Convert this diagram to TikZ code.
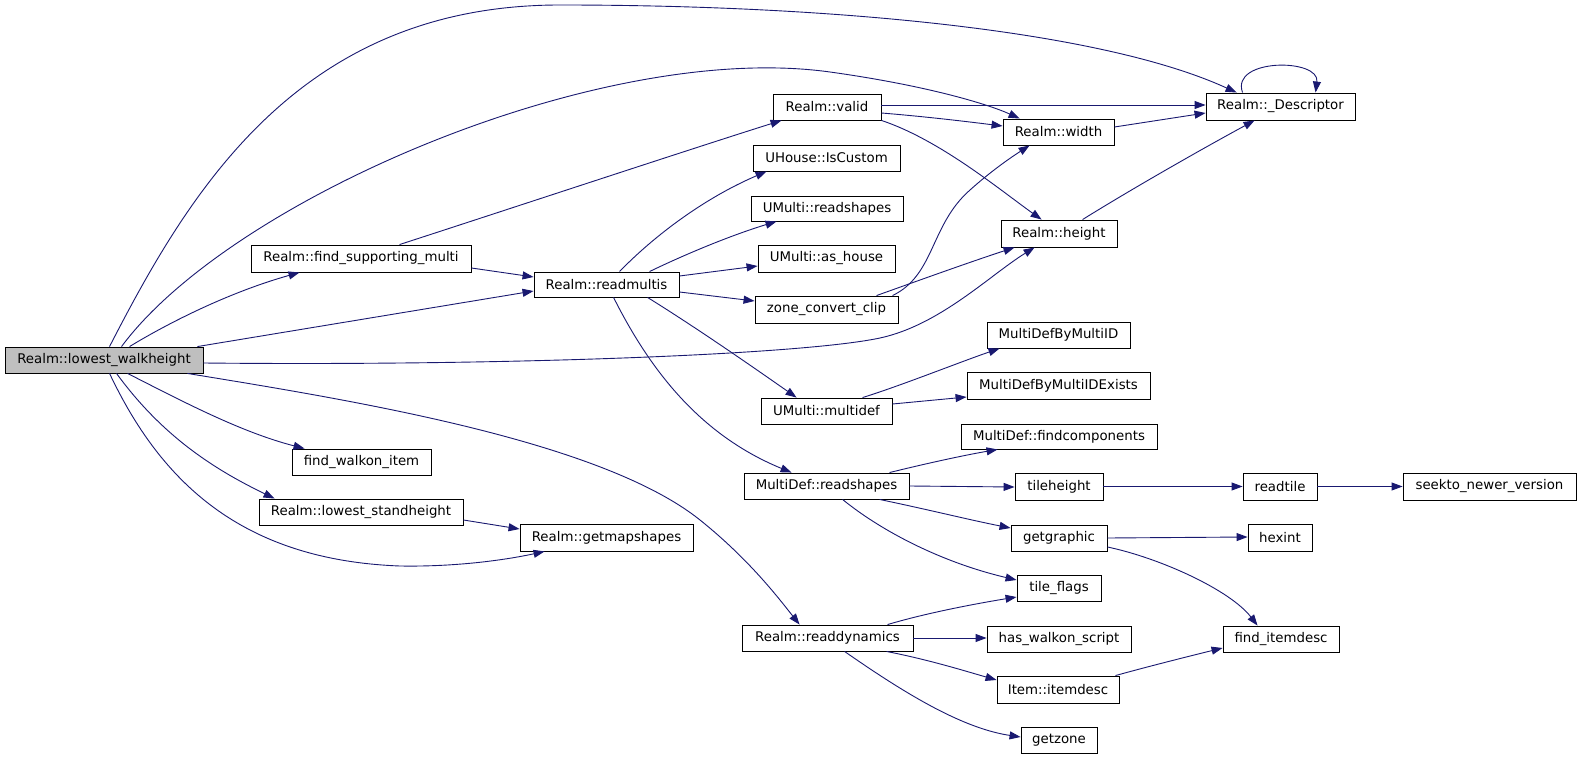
\documentclass[tikz,border=0pt]{standalone}
\usepackage{fontspec}
\setmainfont{DejaVu Sans}
\usetikzlibrary{arrows.meta}
\definecolor{edgeblue}{HTML}{191970}
\definecolor{hilite}{HTML}{BFBFBF}
\tikzset{
  box/.style={draw=black, line width=0.9pt, fill=white, inner sep=0pt, anchor=center,
    font=\fontsize{13.33}{16}\selectfont},
  edge/.style={draw=edgeblue, line width=0.9pt, -{Triangle[length=11pt,width=8pt]}},
}
\begin{document}
\begin{tikzpicture}[x=1pt,y=-1pt]
\useasboundingbox[fill=white] (0,0) rectangle (1581,759);
% nodes
\node[box, fill=hilite, minimum width=198pt, minimum height=26pt] (walk) at (104,360) {Realm::lowest\_walkheight};
\node[box, minimum width=220pt, minimum height=27pt] (fsm) at (361,258.5) {Realm::find\_supporting\_multi};
\node[box, minimum width=145pt, minimum height=25pt] (rmulti) at (606.5,284.5) {Realm::readmultis};
\node[box, minimum width=108pt, minimum height=26pt] (valid) at (827,107) {Realm::valid};
\node[box, minimum width=147pt, minimum height=26pt] (iscustom) at (826.5,158) {UHouse::IsCustom};
\node[box, minimum width=152pt, minimum height=25pt] (ureadsh) at (827,208.5) {UMulti::readshapes};
\node[box, minimum width=137pt, minimum height=27pt] (ashouse) at (826.5,258.5) {UMulti::as\_house};
\node[box, minimum width=143pt, minimum height=27pt] (zcc) at (826.5,309.5) {zone\_convert\_clip};
\node[box, minimum width=111pt, minimum height=26pt] (width) at (1058.5,132) {Realm::width};
\node[box, minimum width=116pt, minimum height=27pt] (height) at (1059,233.5) {Realm::height};
\node[box, minimum width=149pt, minimum height=27pt] (desc) at (1280.5,106.5) {Realm::\_Descriptor};
\node[box, minimum width=143pt, minimum height=26pt] (mdbm) at (1058.5,335) {MultiDefByMultiID};
\node[box, minimum width=183pt, minimum height=27pt] (mdbme) at (1058.5,385.5) {MultiDefByMultiIDExists};
\node[box, minimum width=131pt, minimum height=26pt] (multidef) at (826.5,411) {UMulti::multidef};
\node[box, minimum width=196pt, minimum height=25pt] (findcomp) at (1059,436.5) {MultiDef::findcomponents};
\node[box, minimum width=165pt, minimum height=26pt] (mdreadsh) at (826.5,486) {MultiDef::readshapes};
\node[box, minimum width=88pt, minimum height=27pt] (tileh) at (1059,486.5) {tileheight};
\node[box, minimum width=74pt, minimum height=27pt] (readtile) at (1280,486.5) {readtile};
\node[box, minimum width=173pt, minimum height=27pt] (seekto) at (1489.5,486.5) {seekto\_newer\_version};
\node[box, minimum width=96pt, minimum height=26pt] (getgraphic) at (1059,538) {getgraphic};
\node[box, minimum width=64pt, minimum height=27pt] (hexint) at (1280,537.5) {hexint};
\node[box, minimum width=139pt, minimum height=26pt] (fwi) at (361.5,462) {find\_walkon\_item};
\node[box, minimum width=204pt, minimum height=26pt] (lsh) at (361,512) {Realm::lowest\_standheight};
\node[box, minimum width=173pt, minimum height=27pt] (gms) at (606.5,537.5) {Realm::getmapshapes};
\node[box, minimum width=84pt, minimum height=26pt] (tflags) at (1059,588) {tile\_flags};
\node[box, minimum width=171pt, minimum height=26pt] (rdyn) at (827.5,638) {Realm::readdynamics};
\node[box, minimum width=144pt, minimum height=26pt] (hws) at (1059,639) {has\_walkon\_script};
\node[box, minimum width=116pt, minimum height=26pt] (fid) at (1281,639) {find\_itemdesc};
\node[box, minimum width=122pt, minimum height=27pt] (itemdesc) at (1058,689.5) {Item::itemdesc};
\node[box, minimum width=76pt, minimum height=26pt] (getzone) at (1059,740) {getzone};
% edges from lowest_walkheight
\draw[edge] ([xshift=105pt]walk.north west) .. controls (190,190) and (300,5) .. (560,5) .. controls (830,5) and (1100,30) .. ([xshift=31pt]desc.north west);
\draw[edge] ([xshift=117pt]walk.north west) .. controls (230,200) and (600,40) .. (830,72) .. controls (930,86) and (990,105) .. ([xshift=17pt]width.north west);
\draw[edge] ([xshift=125pt]walk.north west) .. controls (170,322) and (230,292) .. ([xshift=49pt]fsm.south west);
\draw[edge] ([xshift=-6pt]walk.north east) -- ([yshift=-6.5pt]rmulti.west);
\draw[edge] ([yshift=-3pt]walk.east) .. controls (500,366) and (800,355) .. (880,338) .. controls (940,325) and (990,275) .. ([xshift=34pt]height.south west);
\draw[edge] ([xshift=123pt]walk.south west) .. controls (180,400) and (240,432) .. ([xshift=13pt]fwi.north west);
\draw[edge] ([xshift=112pt]walk.south west) .. controls (165,440) and (220,472) .. ([xshift=16pt]lsh.north west);
\draw[edge] ([xshift=105pt]walk.south west) .. controls (160,480) and (240,560) .. (400,566) .. controls (460,567) and (510,559) .. ([xshift=25pt]gms.south west);
\draw[edge] ([xshift=-16pt]walk.south east) .. controls (350,400) and (600,440) .. (700,520) .. controls (750,560) and (780,600) .. ([xshift=58pt]rdyn.north west);
% find_supporting_multi
\draw[edge] ([xshift=149pt]fsm.north west) .. controls (500,212) and (700,146) .. ([xshift=9pt]valid.south west);
\draw[edge] ([yshift=-9.5pt]fsm.east) -- ([yshift=7.5pt]rmulti.west);
% readmultis
\draw[edge] ([xshift=86pt]rmulti.north west) .. controls (650,240) and (700,200) .. ([xshift=14pt]iscustom.south west);
\draw[edge] ([xshift=116pt]rmulti.north west) .. controls (690,252) and (735,234) .. ([xshift=26pt]ureadsh.south west);
\draw[edge] ([yshift=8.5pt]rmulti.east) -- ([yshift=-7.5pt]ashouse.west);
\draw[edge] ([yshift=-7.5pt]rmulti.east) -- ([yshift=8.5pt]zcc.west);
\draw[edge] ([xshift=114pt]rmulti.south west) .. controls (700,330) and (760,372) .. ([xshift=36pt]multidef.north west);
\draw[edge] ([xshift=80pt]rmulti.south west) .. controls (650,370) and (700,435) .. ([xshift=48pt]mdreadsh.north west);
% valid
\draw[edge] ([yshift=2pt]valid.east) -- ([yshift=1.5pt]desc.west);
\draw[edge] ([yshift=-6pt]valid.east) .. controls (930,117) and (970,122) .. ([yshift=6pt]width.west);
\draw[edge] (valid.south east) .. controls (940,140) and (1000,190) .. ([xshift=41pt]height.north west);
% width, height, descriptor
\draw[edge] ([yshift=5pt]width.east) -- ([yshift=-6.5pt]desc.west);
\draw[edge] ([xshift=82pt]height.north west) .. controls (1130,190) and (1200,150) .. ([xshift=49pt]desc.south west);
\draw[edge] ([xshift=37pt]desc.north west) .. controls (1230,58) and (1320,58) .. ([xshift=110pt]desc.north west);
% zone_convert_clip
\draw[edge] ([xshift=138pt]zcc.north west) .. controls (935,275) and (930,225) .. (970,190) .. controls (990,172) and (1010,158) .. ([xshift=27pt]width.south west);
\draw[edge] ([xshift=122pt]zcc.north west) .. controls (920,280) and (970,262) .. ([xshift=14pt]height.south west);
% multidef
\draw[edge] ([xshift=102pt]multidef.north west) .. controls (900,386) and (960,362) .. ([xshift=13pt]mdbm.south west);
\draw[edge] ([yshift=7pt]multidef.east) -- ([yshift=-11.5pt]mdbme.west);
% MultiDef::readshapes
\draw[edge] ([xshift=146pt]mdreadsh.north west) .. controls (920,465) and (960,456) .. ([xshift=37pt]findcomp.south west);
\draw[edge] (mdreadsh.east) -- ([yshift=-0.5pt]tileh.west);
\draw[edge] ([xshift=136pt]mdreadsh.south west) .. controls (930,510) and (970,520) .. ([yshift=10pt]getgraphic.west);
\draw[edge] ([xshift=99pt]mdreadsh.south west) .. controls (880,530) and (940,562) .. ([yshift=8pt]tflags.west);
% chains
\draw[edge] (tileh.east) -- (readtile.west);
\draw[edge] (readtile.east) -- (seekto.west);
\draw[edge] (getgraphic.east) -- ([yshift=0.5pt]hexint.west);
\draw[edge] ([yshift=-9pt]getgraphic.east) .. controls (1160,558) and (1230,590) .. ([xshift=35pt]fid.north west);
\draw[edge] ([yshift=-8pt]lsh.east) -- ([yshift=8.5pt]gms.west);
% readdynamics
\draw[edge] ([xshift=146pt]rdyn.north west) .. controls (930,612) and (980,603) .. ([yshift=-9pt]tflags.west);
\draw[edge] (rdyn.east) -- ([yshift=1pt]hws.west);
\draw[edge] ([xshift=145pt]rdyn.south west) .. controls (930,660) and (965,671) .. ([yshift=9.5pt]itemdesc.west);
\draw[edge] ([xshift=103pt]rdyn.south west) .. controls (900,690) and (960,728) .. ([yshift=3pt]getzone.west);
\draw[edge] ([xshift=-4pt]itemdesc.north east) .. controls (1150,666) and (1190,656) .. ([yshift=-9pt]fid.west);
\end{tikzpicture}
\end{document}
